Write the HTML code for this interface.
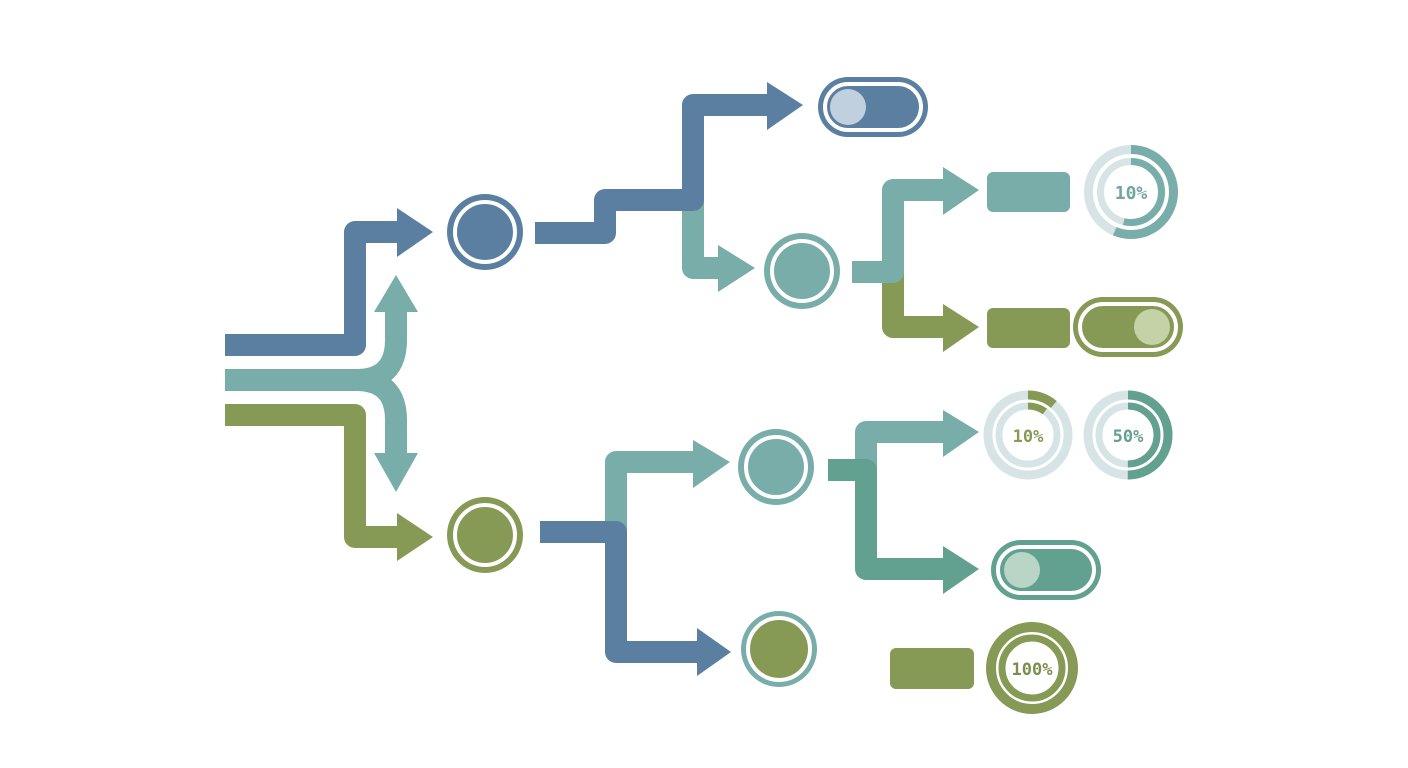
<!DOCTYPE html>
<html><head><meta charset="utf-8"><style>
html,body{margin:0;padding:0;background:#fff}
svg{display:block}
text{font-family:"DejaVu Sans Mono","Liberation Mono",monospace;font-weight:bold}
</style></head><body>
<svg width="1408" height="768" viewBox="0 0 1408 768" xmlns="http://www.w3.org/2000/svg">
<rect width="1408" height="768" fill="#fff"/>
<g fill="none" stroke-width="22" stroke-linejoin="round">
  <!-- left main -->
  <path d="M225,345 H355 V232 H400" stroke="#5b7fa0"/>
  <path d="M225,415 H355 V537 H400" stroke="#869a55"/>
  <path d="M225,380 H356 Q396,380 396,340 V310" stroke="#79adaa"/>
  <path d="M225,380 H356 Q396,380 396,420 V455" stroke="#79adaa"/>
  <!-- top branch -->
  <path d="M693,200 V268 H720" stroke="#79adaa"/>
  <path d="M535,233 H605 V200 H693 V105 H770" stroke="#5b7fa0"/>
  <!-- teal circle branch -->
  <path d="M893,272 V327 H945" stroke="#869a55"/>
  <path d="M852,272 H893 V190 H945" stroke="#79adaa"/>
  <!-- bottom branch -->
  <path d="M616,532 V462 H695" stroke="#79adaa"/>
  <path d="M540,532 H616 V652 H700" stroke="#5b7fa0"/>
  <path d="M866,470 V432 H945" stroke="#79adaa"/>
  <path d="M828,470 H866 V569 H945" stroke="#62a08f"/>
</g>
<!-- arrowheads -->
<polygon points="397,208 433,232 397,257" fill="#5b7fa0"/>
<polygon points="397,513 433,537 397,561" fill="#869a55"/>
<polygon points="374,312 418,312 396,275" fill="#79adaa"/>
<polygon points="374,453 418,453 396,492" fill="#79adaa"/>
<polygon points="767,82 803,105 767,130" fill="#5b7fa0"/>
<polygon points="718,245 755,268 718,292" fill="#79adaa"/>
<polygon points="943,167 979,190 943,215" fill="#79adaa"/>
<polygon points="943,304 979,327 943,352" fill="#869a55"/>
<polygon points="693,440 730,462 693,488" fill="#79adaa"/>
<polygon points="697,628 731,652 697,676" fill="#5b7fa0"/>
<polygon points="943,410 979,432 943,457" fill="#79adaa"/>
<polygon points="943,546 979,569 943,594" fill="#62a08f"/>
<!-- circle nodes -->
<g>
  <circle cx="485" cy="232" r="38" fill="#5b7fa0"/><circle cx="485" cy="232" r="30" fill="none" stroke="#fff" stroke-width="4"/>
  <circle cx="485" cy="535" r="38" fill="#869a55"/><circle cx="485" cy="535" r="30" fill="none" stroke="#fff" stroke-width="4"/>
  <circle cx="802" cy="271" r="38" fill="#79adaa"/><circle cx="802" cy="271" r="30" fill="none" stroke="#fff" stroke-width="4"/>
  <circle cx="776" cy="467" r="38" fill="#79adaa"/><circle cx="776" cy="467" r="30" fill="none" stroke="#fff" stroke-width="4"/>
  <circle cx="779" cy="649" r="38" fill="#79adaa"/><circle cx="779" cy="649" r="31" fill="#869a55" stroke="#fff" stroke-width="4"/>
</g>
<!-- toggles -->
<rect x="818" y="77" width="110" height="60" rx="30" fill="#5b7fa0"/>
<rect x="825" y="84" width="96" height="46" rx="23" fill="none" stroke="#fff" stroke-width="4"/>
<circle cx="848" cy="107" r="18" fill="#c1d0de"/>
<rect x="1073" y="297" width="110" height="60" rx="30" fill="#869a55"/>
<rect x="1080" y="304" width="96" height="46" rx="23" fill="none" stroke="#fff" stroke-width="4"/>
<circle cx="1152" cy="327" r="18" fill="#c5d2a8"/>
<rect x="991" y="540" width="110" height="60" rx="30" fill="#62a08f"/>
<rect x="998" y="547" width="96" height="46" rx="23" fill="none" stroke="#fff" stroke-width="4"/>
<circle cx="1022" cy="570" r="18" fill="#b8d5c6"/>
<!-- rects -->
<rect x="987" y="172" width="83" height="40" rx="6" fill="#79adaa"/>
<rect x="987" y="308" width="83" height="40" rx="6" fill="#869a55"/>
<rect x="890" y="648" width="84" height="41" rx="6" fill="#869a55"/>
<!-- donuts -->
<g fill="none">
  <!-- teal 10% -->
  <circle cx="1131" cy="192" r="42.5" stroke="#d7e4e6" stroke-width="9"/>
  <circle cx="1131" cy="192" r="30.5" stroke="#d7e4e6" stroke-width="7"/>
  <circle cx="1131" cy="192" r="42.5" stroke="#79adaa" stroke-width="9" stroke-dasharray="150 300" transform="rotate(-90 1131 192)"/>
  <circle cx="1131" cy="192" r="30.5" stroke="#79adaa" stroke-width="7" stroke-dasharray="103 300" transform="rotate(-90 1131 192)"/>
  <!-- green 10% -->
  <circle cx="1028" cy="435" r="40" stroke="#d7e4e6" stroke-width="9"/>
  <circle cx="1028" cy="435" r="29" stroke="#d7e4e6" stroke-width="7"/>
  <circle cx="1028" cy="435" r="40" stroke="#869a55" stroke-width="9" stroke-dasharray="28 300" transform="rotate(-90 1028 435)"/>
  <circle cx="1028" cy="435" r="29" stroke="#869a55" stroke-width="7" stroke-dasharray="18 300" transform="rotate(-90 1028 435)"/>
  <!-- 50% -->
  <circle cx="1128" cy="435" r="40" stroke="#d7e4e6" stroke-width="9"/>
  <circle cx="1128" cy="435" r="29" stroke="#d7e4e6" stroke-width="7"/>
  <circle cx="1128" cy="435" r="40" stroke="#62a08f" stroke-width="9" stroke-dasharray="125.7 300" transform="rotate(-90 1128 435)"/>
  <circle cx="1128" cy="435" r="29" stroke="#62a08f" stroke-width="7" stroke-dasharray="91.1 300" transform="rotate(-90 1128 435)"/>
  <!-- 100% -->
  <circle cx="1032" cy="668" r="41" stroke="#869a55" stroke-width="10"/>
  <circle cx="1032" cy="668" r="30" stroke="#869a55" stroke-width="7"/>
</g>
<text x="1131" y="199" font-size="18" fill="#6fa4a2" text-anchor="middle">10%</text>
<text x="1028" y="442" font-size="17" fill="#869a55" text-anchor="middle">10%</text>
<text x="1128" y="442" font-size="17" fill="#62a08f" text-anchor="middle">50%</text>
<text x="1032" y="675" font-size="17" fill="#7a8f4c" text-anchor="middle">100%</text>
</svg>
</body></html>
